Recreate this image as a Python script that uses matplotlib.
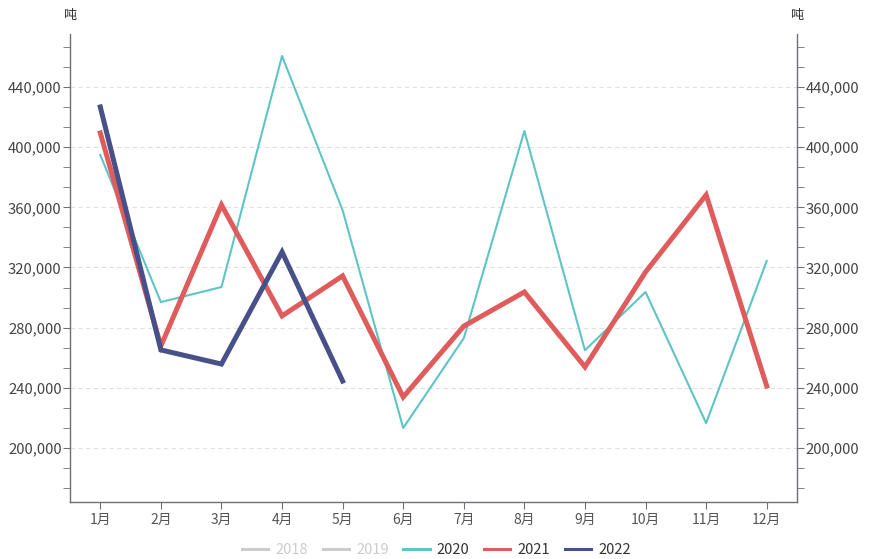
import matplotlib.pyplot as plt
from matplotlib.lines import Line2D
from matplotlib.ticker import FixedLocator, FuncFormatter

plt.rcParams['font.family'] = ['Noto Sans CJK SC', 'DejaVu Sans']

months = ['1月', '2月', '3月', '4月', '5月', '6月', '7月', '8月', '9月', '10月', '11月', '12月']
v2020 = [394800, 297000, 307000, 460600, 358000, 213300, 273000, 410700, 265000, 303700, 216600, 324300]
v2021 = [409400, 267800, 361600, 287800, 314400, 233900, 281000, 303700, 253900, 317000, 368200, 241200]
v2022 = [426700, 265200, 255800, 330300, 244500]
legend_names = ['2018', '2019', '2020', '2021', '2022']
unit = '吨'

W, H = 873, 559
fig = plt.figure(figsize=(W / 100, H / 100), dpi=100)
ax = fig.add_axes([70 / W, (H - 502) / H, (797 - 70) / W, (502 - 34) / H])

c20, c21, c22 = '#5fc4c4', '#e05b5b', '#475089'
x = list(range(len(months)))
ax.plot(x, v2020, color=c20, lw=1.5, zorder=3)
ax.plot(x, v2021, color=c21, lw=3.6, zorder=4, solid_joinstyle='miter')
ax.plot(x[:len(v2022)], v2022, color=c22, lw=3.6, zorder=5, solid_joinstyle='miter')

ax.set_xlim(-0.5, 11.5)
ax.set_ylim(164100, 475200)

major = [200000, 240000, 280000, 320000, 360000, 400000, 440000]
minor = [173333, 186667, 213333, 226667, 253333, 266667, 293333, 306667,
         333333, 346667, 373333, 386667, 413333, 426667, 453333, 466667]
fmt = FuncFormatter(lambda v, p: f'{int(v):,}')
ax.yaxis.set_major_locator(FixedLocator(major))
ax.yaxis.set_minor_locator(FixedLocator(minor))
ax.yaxis.set_major_formatter(fmt)
ax.grid(axis='y', which='major', color='#e0e0e0', ls=(0, (4, 3)), lw=0.8)
ax.set_axisbelow(True)

ax.set_xticks(x)
ax.set_xticklabels(months)

ax.spines['top'].set_visible(False)
for s in ['left', 'right', 'bottom']:
    ax.spines[s].set_color('#6e7079')
    ax.spines[s].set_linewidth(1)

ax.tick_params(axis='x', length=5, color='#6e7079', labelcolor='#555555', labelsize=10, pad=3)
ax.tick_params(axis='y', which='both', length=5, color='#6e7079', labelcolor='#444444',
               labelsize=10.7, pad=1, left=True, right=True, labelleft=True, labelright=True)

fig.text(70 / W, 1 - 16 / H, unit, ha='center', va='center', fontsize=9.5, color='#333333')
fig.text(797 / W, 1 - 16 / H, unit, ha='center', va='center', fontsize=9.5, color='#333333')

handles = [Line2D([], [], color='#cccccc', lw=2.2),
           Line2D([], [], color='#cccccc', lw=2.2),
           Line2D([], [], color=c20, lw=2.2),
           Line2D([], [], color=c21, lw=2.2),
           Line2D([], [], color=c22, lw=2.2)]
leg = fig.legend(handles, legend_names, loc='center', bbox_to_anchor=(0.5, 1 - 550 / H), ncol=5,
                 frameon=False, fontsize=10.5, handlelength=1.8, handletextpad=0.5, columnspacing=1.0)
for t, col in zip(leg.get_texts(), ['#cccccc', '#cccccc', '#333333', '#333333', '#333333']):
    t.set_color(col)

fig.savefig('out.png', dpi=100)
